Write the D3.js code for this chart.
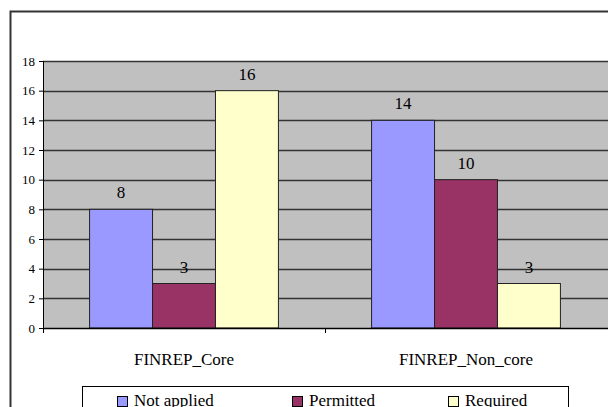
<!DOCTYPE html>
<html><head><meta charset="utf-8">
<script src="https://cdn.jsdelivr.net/npm/d3@7/dist/d3.min.js"></script>
<style>body{margin:0;background:#fff}svg{display:block}
svg text{font-family:"Liberation Serif","Times New Roman","DejaVu Serif",serif !important;}</style>
</head><body>
<script>
const categories = ["FINREP_Core", "FINREP_Non_core"];
const seriesNames = ["Not applied", "Permitted", "Required"];
const seriesColors = ["#9999FF", "#993366", "#FFFFCC"];
const notApplied = [8, 14];
const permitted = [3, 10];
const required = [16, 3];
const yTicks = [0, 2, 4, 6, 8, 10, 12, 14, 16, 18];

const seriesValues = [notApplied, permitted, required];
const W = 608, H = 407;
const svg = d3.select("body").append("svg").attr("width", W).attr("height", H);

// outer chart border
svg.append("path").attr("d", "M10.5,407 L10.5,11.5 L608,11.5")
  .attr("fill", "none").attr("stroke", "#333").attr("stroke-width", 2);

const plot = {left: 43, top: 61, right: 607, bottom: 328};
const x0 = d3.scaleBand().domain(categories).range([plot.left, plot.right]);
const x1 = d3.scaleBand().domain(seriesNames).range([0, x0.bandwidth()]).paddingInner(0).paddingOuter(0.74);
const y = d3.scaleLinear().domain([0, 18]).range([plot.bottom, plot.top]);

svg.append("rect").attr("x", plot.left).attr("y", plot.top)
  .attr("width", plot.right - plot.left + 5).attr("height", plot.bottom - plot.top)
  .attr("fill", "#C0C0C0");

// gridlines
svg.append("g").selectAll("line").data(yTicks.filter(t => t > 0)).join("line")
  .attr("x1", plot.left).attr("x2", W)
  .attr("y1", d => Math.round(y(d)) + 0.5).attr("y2", d => Math.round(y(d)) + 0.5)
  .attr("stroke", "#333").attr("stroke-width", 1.3);

// y axis
const yAxis = d3.axisLeft(y).tickValues(yTicks).tickSize(4).tickPadding(4);
const ya = svg.append("g").attr("transform", `translate(${plot.left},0)`).call(yAxis);
ya.select(".domain").attr("stroke", "#000");
ya.selectAll("text").attr("font-size", 13).attr("fill", "#000");

// bars
const groups = svg.append("g").selectAll("g").data(categories).join("g")
  .attr("transform", d => `translate(${x0(d)},0)`);
groups.selectAll("rect").data((c, ci) => seriesNames.map((s, si) => ({s, si, v: seriesValues[si][ci]})))
  .join("rect")
  .attr("x", d => x1(d.s)).attr("width", x1.bandwidth())
  .attr("y", d => y(d.v)).attr("height", d => y(0) - y(d.v))
  .attr("fill", d => seriesColors[d.si]).attr("stroke", "#222").attr("stroke-width", 1);
groups.selectAll("text").data((c, ci) => seriesNames.map((s, si) => ({s, si, v: seriesValues[si][ci]})))
  .join("text")
  .attr("x", d => x1(d.s) + x1.bandwidth() / 2).attr("y", d => y(d.v) - 11)
  .attr("text-anchor", "middle").attr("font-size", 17)
  .text(d => d.v);

// x axis
const xAxis = d3.axisBottom(x0).tickSize(0).tickPadding(25);
const xa = svg.append("g").attr("transform", `translate(0,${plot.bottom})`).call(xAxis);
xa.select(".domain").remove();
xa.selectAll("text").attr("font-size", 17).attr("fill", "#000");
svg.append("line").attr("x1", plot.left).attr("x2", W).attr("y1", plot.bottom + 0.5).attr("y2", plot.bottom + 0.5)
  .attr("stroke", "#000").attr("stroke-width", 1.3);
svg.append("g").selectAll("line").data([plot.left, x0(categories[1])]).join("line")
  .attr("x1", d => d + 0.5).attr("x2", d => d + 0.5)
  .attr("y1", plot.bottom).attr("y2", plot.bottom + 5).attr("stroke", "#000");

// legend
const lg = svg.append("g");
lg.append("rect").attr("x", 82.5).attr("y", 386.5).attr("width", 486).attr("height", 40)
  .attr("fill", "#fff").attr("stroke", "#000").attr("stroke-width", 1);
const lx = [117, 292, 448];
seriesNames.forEach((s, i) => {
  lg.append("rect").attr("x", lx[i] + 0.5).attr("y", 396.5).attr("width", 10).attr("height", 10)
    .attr("fill", seriesColors[i]).attr("stroke", "#000");
  lg.append("text").attr("x", lx[i] + 17).attr("y", 406).attr("font-size", 17).text(s);
});
</script>
</body></html>
